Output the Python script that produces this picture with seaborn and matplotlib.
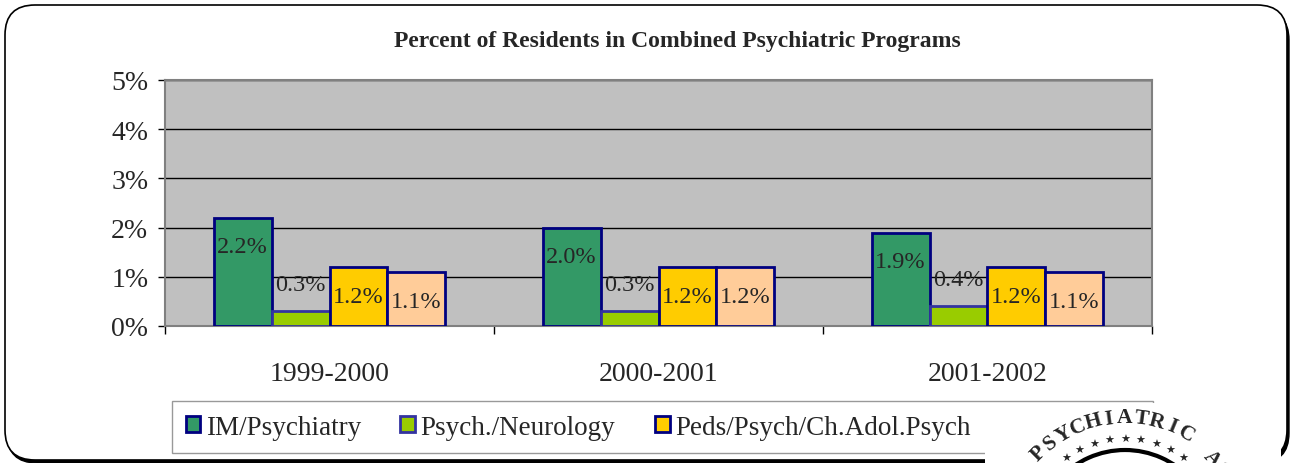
import numpy as np
import pandas as pd
import matplotlib
matplotlib.use("Agg")
import matplotlib.pyplot as plt
import seaborn as sns
from matplotlib.patches import Patch, FancyBboxPatch, Rectangle, Arc

# dados do grafico
anos = ["1999-2000", "2000-2001", "2001-2002"]
programas = ["IM/Psychiatry", "Psych./Neurology", "Peds/Psych/Ch.Adol.Psych", "FP/Psych."]
im_psych = [2.2, 2.0, 1.9]
psych_neuro = [0.3, 0.3, 0.4]
peds_psych = [1.2, 1.2, 1.2]
fp_psych = [1.1, 1.2, 1.1]

cores = ["#339966", "#99CC00", "#FFCC00", "#FFCC99"]
bordas = ["#000080", "#3333A0", "#000080", "#000080"]

W, H = 1291, 464


def px(x, y):
    """converte pixel (origem em cima) para fracao da figura"""
    return x / W, 1 - y / H


df = pd.DataFrame({
    "ano": anos * 4,
    "programa": np.repeat(programas, 3),
    "valor": im_psych + psych_neuro + peds_psych + fp_psych,
})

sns.set_style("white")
plt.rcParams["font.family"] = ["Liberation Serif", "DejaVu Serif"]

fig = plt.figure(figsize=(W / 100, H / 100), dpi=100)

# moldura arredondada com sombra
fig.patches.append(FancyBboxPatch((0.07, 0.0), 12.82, 4.53, boxstyle="round,pad=0,rounding_size=0.3",
                                  transform=fig.dpi_scale_trans, facecolor="black", edgecolor="black",
                                  zorder=-3))
fig.patches.append(FancyBboxPatch((0.05, 0.03), 12.82, 4.55, boxstyle="round,pad=0,rounding_size=0.3",
                                  transform=fig.dpi_scale_trans, facecolor="white", edgecolor="black",
                                  lw=1.2, zorder=-2))

x0, y0 = px(165, 327)
x1, y1 = px(1152, 81)
ax = fig.add_axes([x0, y0, x1 - x0, y1 - y0])
ax.set_facecolor("#C0C0C0")

sns.barplot(data=df, x="ano", y="valor", hue="programa", palette=cores, width=0.705,
            edgecolor="#000080", linewidth=2, saturation=1, legend=False, ax=ax, zorder=3)

for cont, borda in zip(ax.containers, bordas):
    for barra in cont:
        barra.set_edgecolor(borda)
    for barra in cont:
        v = barra.get_height()
        off = -21 if v > 0.5 else 19
        ax.annotate(f"{v:.1f}%", (barra.get_x() + barra.get_width() / 2, v), xytext=(0, off),
                    textcoords="offset points", ha="center", va="center", fontsize=17.5, zorder=5)

ax.set_ylim(0, 5)
ax.set_xlim(-0.5, 2.5)
ax.set_yticks(range(0, 6))
ax.set_yticklabels([f"{i}%" for i in range(0, 6)], fontsize=20)
ax.yaxis.grid(True, color="black", lw=1)
ax.set_axisbelow(True)
ax.tick_params(axis="y", length=5, width=1, color="black", pad=7, left=True)
ax.set_xticks([-0.5, 0.5, 1.5, 2.5], minor=True)
ax.tick_params(axis="x", which="major", length=0, pad=25, labelsize=20)
ax.tick_params(axis="x", which="minor", length=6, width=1, color="black", bottom=True, direction="out")
ax.set_xlabel("")
ax.set_ylabel("")
for s in ax.spines.values():
    s.set_visible(True)
    s.set_color("#808080")
    s.set_linewidth(1.5)

fig.text(*px(677, 42), "Percent of Residents in Combined Psychiatric Programs", ha="center", va="center",
         fontsize=17, fontweight="bold")

# legenda
handles = [Patch(facecolor=c, edgecolor=b, lw=2) for c, b in zip(cores, bordas)]
fig.legend(handles, programas, loc="upper left", bbox_to_anchor=px(172, 402), ncol=4, fontsize=19.5,
           frameon=True, fancybox=False, edgecolor="#808080", handlelength=0.55, handleheight=0.55,
           handletextpad=0.2, columnspacing=1.45, borderpad=0.5, borderaxespad=0)

# logotipo no canto (fundo branco cobre a legenda)
fig.patches.append(Rectangle(px(985, 464), (1281 - 985) / W, (464 - 404) / H, transform=fig.transFigure,
                             facecolor="white", edgecolor="none", zorder=20))
cx, cy = 1125, 540
for letra, ang in zip("PSYCHIATRIC", np.linspace(-45, 30, 11)):
    a = np.radians(ang)
    fig.text(*px(cx + 122 * np.sin(a), cy - 122 * np.cos(a)), letra, ha="center", va="center",
             rotation=-ang, fontsize=15.5, fontweight="bold", zorder=21)
for letra, ang in zip("AS", [47, 54]):
    a = np.radians(ang)
    fig.text(*px(cx + 118 * np.sin(a), cy - 118 * np.cos(a)), letra, ha="center", va="center",
             rotation=-ang, fontsize=15, fontweight="bold", zorder=21)
for ang in np.arange(-36, 37, 9):
    a = np.radians(ang)
    fig.text(*px(cx + 100 * np.sin(a), cy - 100 * np.cos(a)), "★", ha="center", va="center",
             fontsize=8, family="DejaVu Sans", zorder=21)
fig.patches.append(Arc((cx / 100, (H - cy) / 100), 1.78, 1.78, theta1=42, theta2=138,
                       transform=fig.dpi_scale_trans, lw=3, color="black", zorder=21))
fig.patches.append(Arc((cx / 100 + 0.1, (H - cy) / 100), 1.4, 1.4, theta1=55, theta2=125,
                       transform=fig.dpi_scale_trans, lw=3, color="black", zorder=21))

plt.savefig("out.png", dpi=100, facecolor="white")
